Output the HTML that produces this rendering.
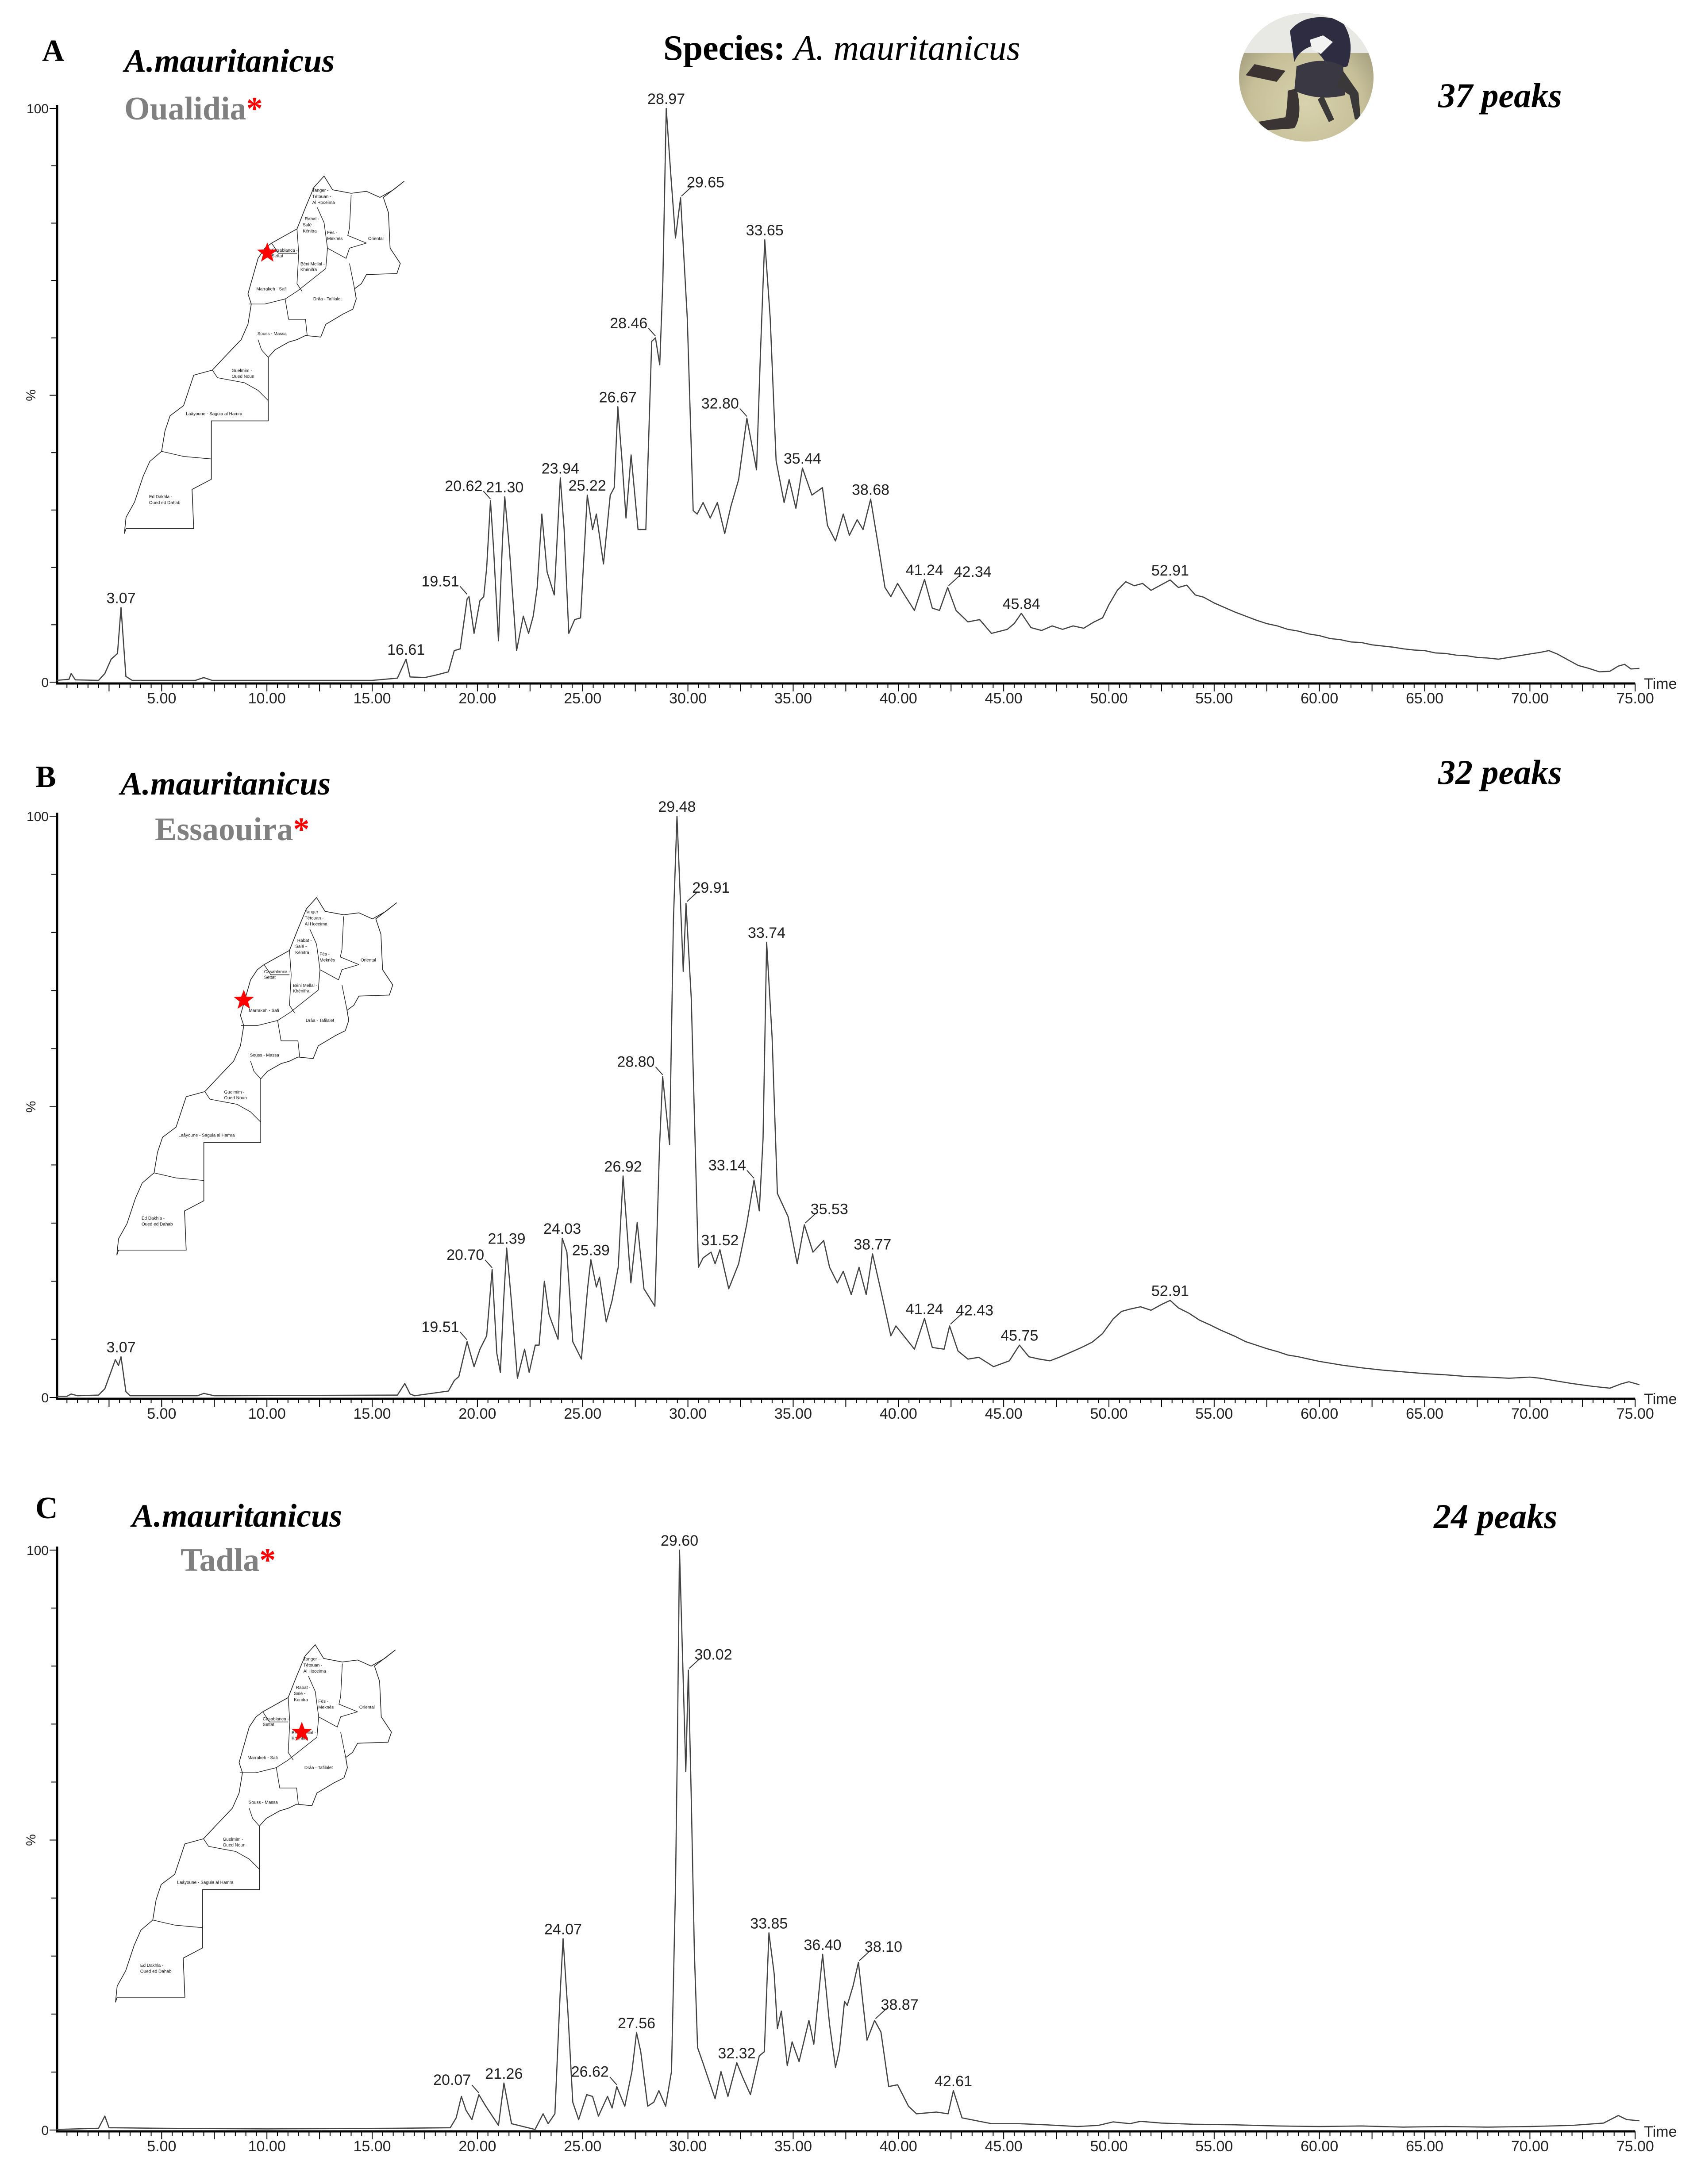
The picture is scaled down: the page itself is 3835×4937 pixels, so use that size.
<!DOCTYPE html>
<html><head><meta charset="utf-8">
<style>
html,body{margin:0;padding:0;background:#fff;}
svg{display:block;}
.ser{font-family:"Liberation Serif",serif;}
.sans{font-family:"Liberation Sans",sans-serif;}
</style></head>
<body>
<svg id="fig" width="3835" height="4937" viewBox="0 0 3835 4937" xmlns="http://www.w3.org/2000/svg">
<rect width="3835" height="4937" fill="#fff"/>
<text class="ser" x="95" y="138" font-size="70" font-weight="bold">A</text>
<text class="ser" x="281" y="162" font-size="74" font-weight="bold" font-style="italic">A.mauritanicus</text>
<text class="ser" x="281" y="270" font-size="74" font-weight="bold" fill="#808080">Oualidia<tspan fill="#ff0000">*</tspan></text>
<text class="ser" x="1499" y="135" font-size="80"><tspan font-weight="bold">Species: </tspan><tspan font-style="italic">A. mauritanicus</tspan></text>
<text class="ser" x="3250" y="242" font-size="78" font-weight="bold" font-style="italic">37 peaks</text>

<text class="ser" x="80" y="1779" font-size="70" font-weight="bold">B</text>
<text class="ser" x="272" y="1796" font-size="74" font-weight="bold" font-style="italic">A.mauritanicus</text>
<text class="ser" x="350" y="1899" font-size="74" font-weight="bold" fill="#808080">Essaouira<tspan fill="#ff0000">*</tspan></text>
<text class="ser" x="3250" y="1772" font-size="78" font-weight="bold" font-style="italic">32 peaks</text>

<text class="ser" x="80" y="3432" font-size="70" font-weight="bold">C</text>
<text class="ser" x="298" y="3451" font-size="74" font-weight="bold" font-style="italic">A.mauritanicus</text>
<text class="ser" x="408" y="3551" font-size="74" font-weight="bold" fill="#808080">Tadla<tspan fill="#ff0000">*</tspan></text>
<text class="ser" x="3240" y="3454" font-size="78" font-weight="bold" font-style="italic">24 peaks</text>

<g>
<defs>
<radialGradient id="bg" cx="0.5" cy="0.7" r="0.6">
<stop offset="0" stop-color="#d8d2ae"/><stop offset="0.7" stop-color="#c6bf98"/><stop offset="1" stop-color="#a8a283"/></radialGradient>
<clipPath id="cc"><ellipse cx="2952" cy="175" rx="152" ry="145"/></clipPath>
</defs>
<ellipse cx="2952" cy="175" rx="152" ry="145" fill="url(#bg)"/>
<g clip-path="url(#cc)">
<rect x="2790" y="25" width="330" height="95" fill="#e8e8e4"/>
<path d="M2915 70 Q2950 25 3030 45 Q3065 90 3045 150 L3005 160 Q2990 125 2962 105 Q2935 115 2925 140 Z" fill="#2e2c40"/>
<path d="M2930 150 Q2990 125 3035 150 L3040 215 Q2980 230 2925 205 Z" fill="#3a3842"/>
<path d="M2905 160 L2835 145 L2815 170 L2885 185 Z" fill="#3b3232"/>
<path d="M2930 200 Q2945 260 2925 290 L2855 295 L2845 275 L2905 265 Q2910 235 2910 205 Z" fill="#3a3434"/>
<path d="M3035 160 L3070 210 L3075 270 L3062 270 L3050 215 L3020 195 Z" fill="#3a3838"/>
<path d="M2990 215 L3015 270 L3003 276 L2978 225 Z" fill="#3a3838"/>
<path d="M2960 90 L2990 80 L3012 95 L2985 122 L2965 112 Z" fill="#f2f2f0"/>
</g>
</g>
<g id="maps"></g>
<g id="charts"></g>
</svg>
<script>
// ---------- Panel A data ----------
var timesA=[0,0.6,0.7,0.9,2,2.3,2.6,2.9,3.07,3.3,3.6,6.6,7,7.4,15,16.2,16.61,16.8,17.5,18.0,18.62,18.9,19.18,19.51,19.6,19.84,20.12,20.3,20.44,20.62,20.77,21.0,21.19,21.3,21.52,21.86,22.18,22.43,22.65,22.84,23.06,23.31,23.65,23.94,24.12,24.34,24.62,24.9,25.22,25.47,25.65,25.99,26.31,26.5,26.67,26.87,27.06,27.3,27.63,28.0,28.28,28.46,28.66,28.81,28.97,29.18,29.41,29.65,29.97,30.25,30.44,30.72,31.06,31.4,31.75,32.04,32.41,32.8,33.26,33.44,33.65,33.91,34.19,34.57,34.81,35.13,35.44,35.89,36.39,36.63,37.01,37.38,37.67,38.04,38.32,38.68,39.07,39.36,39.64,39.96,40.29,40.76,41.24,41.61,41.95,42.34,42.74,43.3,43.86,44.42,45.17,45.5,45.84,46.3,46.8,47.3,47.8,48.3,48.8,49.3,49.7,50.0,50.4,50.8,51.2,51.6,52.0,52.4,52.91,53.3,53.7,54.1,54.5,55.0,55.5,56,56.5,57,57.5,58,58.5,59,59.5,60,60.5,61,61.5,62,62.5,63,63.5,64,64.5,65,65.5,66,66.5,67,67.5,68,68.5,69,69.5,70,70.5,70.9,71.3,71.8,72.3,72.8,73.3,73.8,74.2,74.5,74.8,75.2];
var valuesA=[0.3,0.5,1.5,0.4,0.3,1.5,4,5,13,1,0.3,0.3,0.8,0.3,0.3,0.7,4,0.9,0.8,1.2,1.8,5.5,5.8,14.5,14.9,8.5,14.2,14.9,19.9,31.6,23.2,7.2,24.6,32.3,23.2,5.5,11.5,8.5,11.5,16.5,29.3,19.2,15.2,35.6,26.6,8.5,10.9,11.2,32.6,26.6,29.3,20.6,32.6,33.9,48,38.6,28.6,39.6,26.6,26.6,59.4,60,55.3,70,100,88.8,77.4,84.4,63.4,29.9,29.3,31.3,28.6,31.3,25.9,30.6,35.3,46,37,56.7,77.1,63.4,38.6,31.3,35.3,30.3,37.3,32.6,33.9,27.3,24.6,29.3,25.6,28.3,26.6,31.9,23.2,16.5,14.9,17.2,15.2,12.5,17.9,12.9,12.5,16.5,12.5,10.5,10.9,8.5,9.2,10.2,12,9.5,9.0,9.8,9.2,9.8,9.4,10.5,11.2,13.5,16,17.5,16.8,17.2,16.0,16.8,17.8,16.5,16.9,15.2,14.8,13.8,13.0,12.2,11.5,10.8,10.2,9.8,9.2,8.9,8.4,8.1,7.6,7.4,7.0,6.9,6.5,6.3,6.1,5.8,5.6,5.5,5.1,5.0,4.7,4.6,4.3,4.2,4.0,4.3,4.6,4.9,5.2,5.5,4.9,3.9,2.9,2.4,1.8,1.9,2.8,3.1,2.3,2.4];
var labelsA=["3.07","16.61","19.51","20.62","21.30","23.94","25.22","26.67","28.46","28.97","29.65","32.80","33.65","35.44","38.68","41.24","42.34","45.84","52.91"];
var labelHA=[13,4,15,31.6,32.3,35.6,32.6,48,60,100,84.4,46,77.1,37.3,31.9,17.9,16.5,12,17.8];
var labelSideA=["c","c","l","l","c","c","c","c","l","c","r","l","c","c","c","c","r","c","c"];

// ---------- Panel B data ----------
var timesB=[0,0.5,0.7,1.0,2,2.3,2.6,2.8,2.95,3.07,3.3,3.5,6.7,7,7.5,16.2,16.55,16.8,17.02,18.62,18.9,19.12,19.51,19.84,20.12,20.44,20.7,20.92,21.09,21.24,21.39,21.62,21.9,22.24,22.46,22.75,22.93,23.18,23.4,23.83,24.03,24.25,24.53,24.94,25.24,25.39,25.65,25.8,26.12,26.4,26.69,26.92,27.29,27.59,27.91,28.43,28.65,28.8,29.13,29.31,29.48,29.78,29.91,30.16,30.5,30.72,31.1,31.29,31.52,31.94,32.41,32.79,33.14,33.39,33.57,33.74,34.0,34.25,34.76,35.19,35.53,35.94,36.45,36.73,37.1,37.38,37.76,38.13,38.47,38.77,39.21,39.64,39.88,40.76,41.24,41.61,42.17,42.43,42.83,43.3,43.82,44.52,45.27,45.75,46.2,46.7,47.2,47.7,48.2,48.7,49.2,49.7,50.2,50.6,51,51.5,52,52.5,52.91,53.3,53.8,54.3,54.8,55.3,56,56.5,57,57.5,58,58.5,59,59.5,60,61,62,63,64,65,66,67,68,69,70,70.5,71,72,73,73.8,74.3,74.7,75.2];
var valuesB=[0.2,0.2,0.6,0.3,0.4,1.5,4.5,6.5,5.5,7,1,0.3,0.3,0.7,0.3,0.4,2.4,0.6,0.3,1.1,2.9,3.6,9.6,5.3,8.3,10.6,22,7.6,4.3,16.3,25.7,16.3,3.3,8.3,4.3,9,9,20,14.3,10,27.4,25,9.6,6.6,19,23.7,19,20.7,13,16.7,22.4,38.1,19.7,30.1,18.7,15.7,43.1,55.2,43.5,82,100,73.3,85,68.6,22.4,24,25,23,25.4,18.7,23,29.7,37.4,32.1,44.5,78.3,61.9,35.1,31.1,23,29.7,25,27,22.4,19.7,21.7,17.7,22.4,17.7,24.7,17.7,10.6,12.3,8.3,13.6,8.6,8.3,12.3,8,6.6,6.9,5.3,6.3,9,7,6.6,6.3,7,7.8,8.6,9.5,11,13.5,14.8,15.2,15.6,15.0,16.0,16.7,15.4,14.5,13.3,12.5,11.6,10.5,9.6,9.0,8.4,7.9,7.3,7.0,6.6,6.2,5.6,5.1,4.7,4.4,4.1,3.9,3.6,3.5,3.3,3.5,3.3,3.0,2.4,1.9,1.6,2.3,2.7,2.2];
var labelsB=["3.07","19.51","20.70","21.39","24.03","25.39","26.92","28.80","29.48","29.91","31.52","33.14","33.74","35.53","38.77","41.24","42.43","45.75","52.91"];
var labelHB=[7,9.6,22,25.7,27.4,23.7,38.1,55.2,100,85,25.4,37.4,78.3,29.7,24.7,13.6,12.3,9,16.7];
var labelSideB=["c","l","l","c","c","c","c","l","c","r","c","l","c","r","c","c","r","c","c"];

// ---------- Panel C data ----------
var timesC=[0,2.0,2.3,2.5,5,10,16,18.71,18.99,19.24,19.46,19.74,20.07,20.4,21.0,21.26,21.62,22.74,23.12,23.36,23.68,23.93,24.07,24.3,24.53,24.81,25.19,25.47,25.75,26.18,26.4,26.62,27.0,27.34,27.56,27.76,28.09,28.38,28.62,28.94,29.22,29.41,29.5,29.6,29.78,29.9,30.02,30.16,30.31,30.46,30.72,31.29,31.57,31.9,32.32,32.6,32.97,33.39,33.63,33.85,34.1,34.25,34.44,34.72,34.95,35.28,35.75,35.98,36.4,36.73,37.01,37.2,37.44,37.57,37.85,38.1,38.51,38.87,39.17,39.54,39.96,40.48,40.86,41.8,42.36,42.61,43.02,44.42,45.7,47,48.5,49.5,50.2,51,51.5,52.5,54,56,58,60,62,64,66,68,70,72,73.5,74.2,74.6,75.2];
var valuesC=[0.1,0.3,2.4,0.4,0.3,0.2,0.3,0.4,2.1,5.8,3.4,1.8,6.1,4.1,0.8,8.1,1.1,0.1,2.8,1.1,2.8,23.6,33,20.2,4.8,1.8,6.1,5.8,2.4,5.8,3.8,7.5,4.1,10.1,16.8,13.5,4.1,4.8,6.8,4.1,10.1,41.7,66.5,100,77.3,61.8,79.3,57.1,30.3,14.2,11.5,5.4,10.1,5.8,11.6,9.1,6.1,12.8,13.5,34,26.9,17.5,20.5,11.1,15.2,11.8,18.9,14.8,30.3,18.2,10.8,13.8,22.2,21.5,24.9,28.9,15.5,18.9,16.9,7.5,7.8,4.1,2.8,3.1,2.8,6.8,2.1,1.1,1.1,0.9,0.6,0.8,1.4,1.1,1.5,1.2,1.0,0.9,0.7,0.6,0.7,0.5,0.6,0.5,0.6,0.8,1.2,2.5,1.8,1.6];
var labelsC=["20.07","21.26","24.07","26.62","27.56","29.60","30.02","32.32","33.85","36.40","38.10","38.87","42.61"];
var labelHC=[6.1,8.1,33,7.5,16.8,100,79.3,11.6,34,30.3,28.9,18.9,6.8];
var labelSideC=["l","c","c","l","c","c","r","c","c","c","r","r","c"];

var tickLabels=["5.00","10.00","15.00","20.00","25.00","30.00","35.00","40.00","45.00","50.00","55.00","60.00","65.00","70.00","75.00"];
var tickValues=[5,10,15,20,25,30,35,40,45,50,55,60,65,70,75];

var NS="http://www.w3.org/2000/svg";
function mk(tag,attrs,parent){var e=document.createElementNS(NS,tag);for(var k in attrs)e.setAttribute(k,attrs[k]);parent.appendChild(e);return e;}
var X0=127.5, PX=47.57;
function xScale(t){return X0+t*PX;}

var panels=[
 {id:"a",zero:1542,top:245,axis:1545,t:timesA,v:valuesA,lab:labelsA,lh:labelHA,ls:labelSideA},
 {id:"b",zero:3159,top:1845,axis:3162,t:timesB,v:valuesB,lab:labelsB,lh:labelHB,ls:labelSideB},
 {id:"c",zero:4815,top:3504,axis:4818,t:timesC,v:valuesC,lab:labelsC,lh:labelHC,ls:labelSideC}
];
var charts=document.getElementById('charts');
panels.forEach(function(p){
  var g=mk('g',{},charts);
  
  
  function yScale(v){return p.zero-(v/100)*(p.zero-p.top);}
  var ya=mk('line',{x1:129,y1:p.top-8,x2:129,y2:p.axis,stroke:'#000','stroke-width':5},g);
  
  
  for(var i=0;i<=10;i++){
    var yy=yScale(i*10);
    var tk=mk('line',{x1:(i%5==0?112:116),y1:yy,x2:129,y2:yy,stroke:'#000','stroke-width':2},g);
    
    
  }
  var t100=mk('text',{x:110,y:p.top+11,'font-size':30,'text-anchor':'end','class':'sans',fill:'#222'},g);
  t100.textContent='100';
  
  
  var t0=mk('text',{x:110,y:p.zero+11,'font-size':30,'text-anchor':'end','class':'sans',fill:'#222'},g);
  t0.textContent='0';
  
  
  var pc=mk('text',{x:0,y:0,'font-size':30,'text-anchor':'middle','class':'sans',fill:'#222',transform:'translate(80,'+yScale(50)+') rotate(-90)'},g);
  pc.textContent='%';
  
  
  var xa=mk('line',{x1:127,y1:p.axis,x2:xScale(75),y2:p.axis,stroke:'#000','stroke-width':5},g);
  
  
  for(var m=1;m<=150;m++){
    var tt=m*0.5, major=(m%5==0);
    var mt=mk('line',{x1:xScale(tt),y1:p.axis,x2:xScale(tt),y2:p.axis+(major?18:10),stroke:'#000','stroke-width':2},g);
    
    
  }
  tickLabels.forEach(function(lb,i){
    var tx=mk('text',{x:xScale(tickValues[i]),y:p.axis+45,'font-size':34,'text-anchor':'middle','class':'sans',fill:'#222'},g);
    tx.textContent=lb;
    
    
  });
  var tm=mk('text',{x:xScale(75)+20,y:p.axis+12,'font-size':34,'class':'sans',fill:'#222'},g);
  tm.textContent='Time';
  
  
  var pts=p.t.map(function(t,i){return xScale(t).toFixed(1)+','+yScale(p.v[i]).toFixed(1);}).join(' ');
  var pl=mk('polyline',{points:pts,fill:'none',stroke:'#444','stroke-width':2.6,'stroke-linejoin':'round'},g);
  
  
  p.lab.forEach(function(lb,i){
    var ax=xScale(parseFloat(lb)), ay=yScale(p.lh[i]);
    var side=p.ls[i], tx, anchor, ty;
    if(side==='c'){tx=ax;anchor='middle';ty=ay-10;}
    else if(side==='l'){tx=ax-18;anchor='end';ty=ay-22;
      var ll=mk('line',{x1:ax-16,y1:ay-22,x2:ax,y2:ay-4,stroke:'#333','stroke-width':2},g);
      
      }
    else {tx=ax+14;anchor='start';ty=ay-24;
      var lr=mk('line',{x1:ax+2,y1:ay-4,x2:ax+26,y2:ay-26,stroke:'#333','stroke-width':2},g);
      
      }
    var pt=mk('text',{x:tx,y:ty,'font-size':34,'text-anchor':anchor,'class':'sans',fill:'#222'},g);
    pt.textContent=lb;
    
    
  });
});

var outline=[[935,548],[960,575],[1015,582],[1060,578],[1100,590],[1140,575],[1172,558],[1110,590],[1125,620],[1130,690],[1160,720],[1150,740],[1060,742],[1045,760],[1025,770],[1030,790],[1020,810],[990,820],[940,840],[925,865],[880,862],[855,870],[830,875],[790,890],[770,905],[770,1030],[602,1030],[602,1145],[545,1165],[550,1242],[350,1242],[345,1252],[350,1220],[375,1190],[400,1140],[420,1110],[455,1090],[465,1050],[480,1020],[520,1000],[550,940],[605,930],[640,905],[690,870],[710,840],[720,800],[710,780],[740,710],[760,690],[780,680],[855,652],[880,610],[905,570],[935,548]];
var inner=[[[855,652],[860,700],[855,760],[870,775]],[[712,800],[760,800],[820,790],[855,775],[940,730],[945,690],[1000,710],[1010,690],[1060,680]],[[1015,585],[1010,650],[1005,665],[1060,680]],[[915,610],[935,640],[945,690]],[[820,790],[830,830],[880,830],[885,862]],[[605,930],[620,945],[700,955],[740,970],[770,990]],[[740,870],[750,890],[770,905]],[[455,1090],[520,1100],[602,1105]],[[780,680],[800,700],[855,700]],[[1030,790],[1025,770],[1010,720]]];
var regionNames=[["Tanger -",900,572],["Tétouan -",900,584],["Al Hoceima",900,596],["Rabat -",878,628],["Salé -",872,640],["Kénitra",872,652],["Fès -",944,655],["Meknès",944,667],["Oriental",1065,667],["Casablanca -",780,690],["Settat",780,701],["Béni Mellal -",865,717],["Khénifra",865,728],["Marrakeh - Safi",735,766],["Drâa - Tafilalet",903,786],["Souss - Massa",738,854],["Guelmim -",662,927],["Oued Noun",662,938],["Laâyoune - Saguia al Hamra",527,1012],["Ed Dakhla -",418,1175],["Oued ed Dahab",418,1187]];
function mp(p){return ((p[0]-345)/1.307).toFixed(1)+','+((p[1]-548)/0.871).toFixed(1);}
var mapPlaces=[{id:"a",x:281,y:398,star:[604,572]},{id:"b",x:264,y:2029,star:[551,2261]},{id:"c",x:261,y:3718,star:[682,3916]}];
var maps=document.getElementById('maps');
mapPlaces.forEach(function(m){
  var g=mk('g',{transform:'translate('+m.x+','+m.y+')'},maps);
  
  
  mk('polygon',{points:outline.map(mp).join(' '),fill:'#fff',stroke:'#222','stroke-width':1.6},g);
  inner.forEach(function(l){mk('polyline',{points:l.map(mp).join(' '),fill:'none',stroke:'#222','stroke-width':1.4},g);});
  regionNames.forEach(function(r){
    var p=mp([r[1],r[2]]).split(',');
    var t=mk('text',{x:p[0],y:+p[1]+8,'font-size':10,'class':'sans',fill:'#111'},g);
    t.textContent=r[0];
    
    
  });
  var cx=m.star[0],cy=m.star[1],R=24,r=10,s=[];
  for(var k=0;k<10;k++){var a=-Math.PI/2+k*Math.PI/5,rr=(k%2?r:R);s.push((cx+rr*Math.cos(a)).toFixed(1)+','+(cy+rr*Math.sin(a)).toFixed(1));}
  var st=mk('polygon',{points:s.join(' '),fill:'#ff0000'},maps);
  
  
});
</script>
</body></html>
